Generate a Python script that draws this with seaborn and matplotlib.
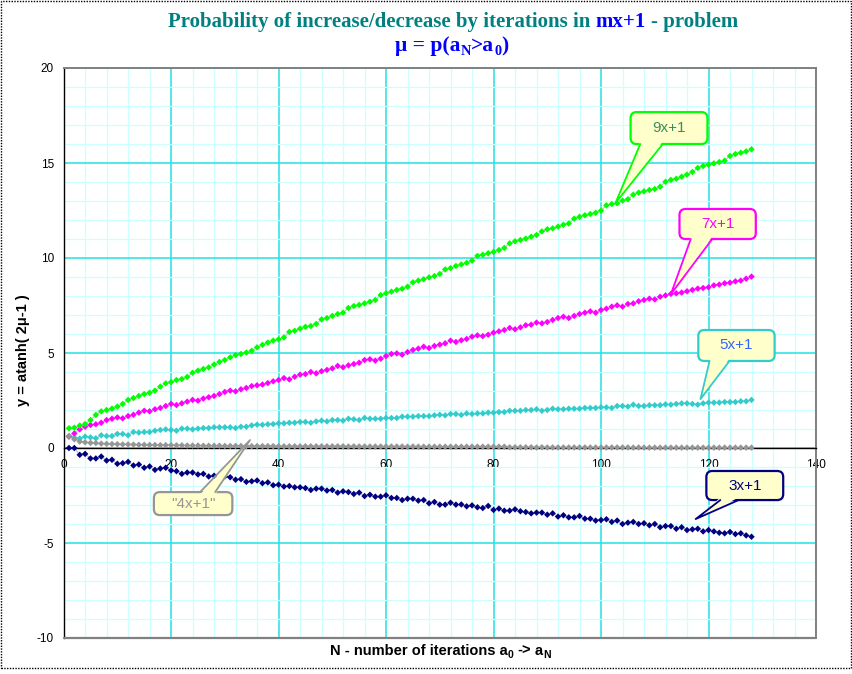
import matplotlib
matplotlib.use("Agg")
import matplotlib.pyplot as plt
import seaborn as sns
import pandas as pd
from matplotlib.patches import FancyBboxPatch, Polygon, Rectangle
from matplotlib.lines import Line2D
from matplotlib.ticker import MultipleLocator
from matplotlib.transforms import IdentityTransform

sns.set_style("white")
plt.rcParams["font.family"] = ["Liberation Sans", "DejaVu Sans"]
plt.rcParams["axes.unicode_minus"] = False

# ---------------- data ----------------
N = list(range(1, 129))

y_9x1 = [1.04, 1.07, 1.18, 1.26, 1.47, 1.74, 1.93, 2.00, 2.07, 2.18,
         2.32, 2.53, 2.63, 2.74, 2.84, 2.91, 3.02, 3.23, 3.40, 3.47,
         3.58, 3.63, 3.74, 3.96, 4.07, 4.16, 4.24, 4.39, 4.53, 4.63,
         4.77, 4.89, 4.95, 5.02, 5.12, 5.30, 5.43, 5.55, 5.65, 5.72,
         5.82, 6.11, 6.17, 6.28, 6.38, 6.42, 6.53, 6.77, 6.84, 6.95,
         7.05, 7.12, 7.37, 7.47, 7.53, 7.61, 7.70, 7.79, 8.05, 8.14,
         8.23, 8.32, 8.38, 8.49, 8.72, 8.81, 8.88, 8.98, 9.05, 9.16,
         9.40, 9.47, 9.58, 9.66, 9.74, 9.86, 10.11, 10.17, 10.25, 10.32,
         10.42, 10.53, 10.77, 10.88, 10.95, 11.02, 11.12, 11.21, 11.40, 11.51,
         11.56, 11.65, 11.75, 11.82, 12.07, 12.17, 12.25, 12.32, 12.38, 12.49,
         12.77, 12.84, 12.88, 13.02, 13.09, 13.33, 13.44, 13.51, 13.58, 13.63,
         13.75, 14.01, 14.11, 14.17, 14.28, 14.39, 14.53, 14.74, 14.84, 14.91,
         14.98, 15.05, 15.12, 15.37, 15.47, 15.54, 15.61, 15.72]

y_7x1 = [0.60, 0.77, 0.98, 1.12, 1.21, 1.25, 1.33, 1.47, 1.54, 1.61,
         1.56, 1.68, 1.75, 1.86, 1.96, 1.93, 2.04, 2.11, 2.21, 2.32,
         2.26, 2.35, 2.44, 2.53, 2.49, 2.60, 2.67, 2.74, 2.84, 2.95,
         3.02, 2.98, 3.09, 3.16, 3.26, 3.30, 3.34, 3.42, 3.51, 3.58,
         3.68, 3.61, 3.75, 3.86, 3.89, 4.00, 3.93, 4.04, 4.11, 4.19,
         4.32, 4.25, 4.35, 4.42, 4.49, 4.63, 4.67, 4.60, 4.70, 4.84,
         4.95, 4.98, 4.91, 5.05, 5.16, 5.23, 5.33, 5.26, 5.37, 5.44,
         5.51, 5.65, 5.58, 5.67, 5.74, 5.86, 5.93, 5.89, 5.96, 6.07,
         6.14, 6.21, 6.32, 6.25, 6.35, 6.46, 6.49, 6.60, 6.56, 6.63,
         6.74, 6.84, 6.91, 6.84, 6.95, 7.05, 7.12, 7.19, 7.12, 7.26,
         7.33, 7.44, 7.51, 7.44, 7.58, 7.61, 7.72, 7.79, 7.86, 7.82,
         7.96, 8.03, 8.11, 8.14, 8.18, 8.25, 8.32, 8.39, 8.42, 8.46,
         8.56, 8.60, 8.67, 8.70, 8.77, 8.81, 8.91, 9.02]

y_5x1 = [0.62, 0.55, 0.50, 0.60, 0.56, 0.51, 0.67, 0.63, 0.63, 0.74,
         0.74, 0.67, 0.84, 0.81, 0.84, 0.84, 0.91, 0.95, 0.98, 0.95,
         0.91, 1.02, 1.02, 0.98, 1.02, 1.05, 1.05, 1.09, 1.09, 1.09,
         1.09, 1.05, 1.12, 1.12, 1.19, 1.23, 1.22, 1.25, 1.26, 1.30,
         1.30, 1.33, 1.33, 1.37, 1.37, 1.33, 1.40, 1.44, 1.40, 1.47,
         1.47, 1.44, 1.54, 1.51, 1.47, 1.58, 1.54, 1.54, 1.54, 1.58,
         1.58, 1.58, 1.65, 1.65, 1.65, 1.68, 1.68, 1.68, 1.72, 1.75,
         1.72, 1.79, 1.79, 1.74, 1.82, 1.79, 1.82, 1.82, 1.86, 1.86,
         1.89, 1.89, 1.96, 1.96, 1.96, 2.00, 2.00, 2.04, 1.96, 2.00,
         2.07, 2.04, 2.04, 2.07, 2.07, 2.07, 2.11, 2.11, 2.11, 2.14,
         2.14, 2.11, 2.21, 2.21, 2.18, 2.28, 2.21, 2.21, 2.25, 2.25,
         2.25, 2.30, 2.28, 2.32, 2.35, 2.35, 2.32, 2.28, 2.35, 2.39,
         2.39, 2.39, 2.42, 2.42, 2.42, 2.46, 2.46, 2.53]

y_4x1 = [0.62, 0.46, 0.34, 0.30, 0.27, 0.26, 0.23, 0.22, 0.21, 0.20,
         0.19, 0.19, 0.18, 0.17, 0.17, 0.16, 0.16, 0.15, 0.15, 0.15,
         0.14, 0.14, 0.13, 0.13, 0.13, 0.12, 0.12, 0.12, 0.12, 0.11,
         0.11, 0.11, 0.11, 0.10, 0.10, 0.10, 0.10, 0.10, 0.10, 0.09,
         0.09, 0.09, 0.09, 0.09, 0.09, 0.09, 0.09, 0.09, 0.09, 0.09,
         0.09, 0.09, 0.08, 0.09, 0.08, 0.08, 0.08, 0.08, 0.08, 0.08,
         0.08, 0.08, 0.08, 0.07, 0.08, 0.07, 0.07, 0.07, 0.07, 0.07,
         0.07, 0.07, 0.07, 0.07, 0.07, 0.07, 0.07, 0.07, 0.07, 0.07,
         0.07, 0.07, 0.04, 0.04, 0.04, 0.04, 0.04, 0.03, 0.04, 0.03,
         0.03, 0.03, 0.03, 0.03, 0.03, 0.03, 0.03, 0.03, 0.03, 0.03,
         0.03, 0.03, 0.03, 0.03, 0.03, 0.02, 0.03, 0.02, 0.02, 0.02,
         0.02, 0.02, 0.02, 0.02, 0.02, 0.02, 0.02, 0.02, 0.02, 0.02,
         0.02, 0.02, 0.02, 0.02, 0.02, 0.02, 0.02, 0.02]

y_3x1 = [0.00, 0.00, -0.36, -0.31, -0.55, -0.55, -0.45, -0.66, -0.62, -0.83,
         -0.80, -0.73, -0.92, -0.87, -1.04, -0.97, -1.15, -1.08, -1.04, -1.18,
         -1.22, -1.36, -1.29, -1.29, -1.39, -1.36, -1.50, -1.46, -1.57, -1.50,
         -1.54, -1.67, -1.64, -1.78, -1.75, -1.71, -1.85, -1.81, -1.96, -1.93,
         -2.03, -2.00, -2.07, -2.07, -2.11, -2.21, -2.14, -2.14, -2.24, -2.21,
         -2.35, -2.28, -2.32, -2.42, -2.35, -2.53, -2.46, -2.56, -2.56, -2.49,
         -2.63, -2.63, -2.74, -2.67, -2.67, -2.77, -2.74, -2.91, -2.84, -2.98,
         -2.98, -2.88, -2.98, -2.97, -3.07, -3.02, -3.12, -3.16, -3.05, -3.26,
         -3.19, -3.30, -3.30, -3.23, -3.33, -3.37, -3.44, -3.40, -3.40, -3.51,
         -3.44, -3.61, -3.54, -3.65, -3.65, -3.58, -3.72, -3.72, -3.82, -3.79,
         -3.75, -3.89, -3.82, -4.00, -3.93, -3.89, -4.00, -3.96, -4.07, -4.00,
         -4.17, -4.11, -4.11, -4.25, -4.17, -4.32, -4.28, -4.25, -4.39, -4.32,
         -4.39, -4.46, -4.49, -4.42, -4.53, -4.49, -4.60, -4.67]

series_names = ["3x+1", "5x+1", "7x+1", "9x+1", "4x+1"]
series_values = [y_3x1, y_5x1, y_7x1, y_9x1, y_4x1]
series_colors = ["#000080", "#33CCCC", "#FF00FF", "#00FF00", "#969696"]

title_main = "Probability of increase/decrease by iterations in"
title_mid = "mx+1"
title_end = "- problem"
y_label = "y = atanh( 2\u03bc-1 )"

# ---------------- build long table ----------------
rows = []
for name, vals in zip(series_names, series_values):
    for n, v in zip(N, vals):
        rows.append((name, n, v))
df = pd.DataFrame(rows, columns=["series", "N", "y"])
palette = dict(zip(series_names, series_colors))

W, H = 853, 674
fig = plt.figure(figsize=(W / 100, H / 100), dpi=100)
fig.patch.set_facecolor("white")
L, R, T, B = 63.6, 816.0, 68.0, 638.0
ax = fig.add_axes([L / W, (H - B) / H, (R - L) / W, (B - T) / H])
ax.set_facecolor("white")

sns.lineplot(data=df, x="N", y="y", units="series", estimator=None,
             color="#BEBEBE", linewidth=0.8, ax=ax, zorder=2, legend=False)
sns.scatterplot(data=df, x="N", y="y", hue="series", palette=palette,
                marker="D", s=11, linewidth=0, ax=ax, zorder=3, legend=False)

ax.set_xlim(0, 140)
ax.set_ylim(-10, 20)
ax.xaxis.set_major_locator(MultipleLocator(20))
ax.xaxis.set_minor_locator(MultipleLocator(4))
ax.yaxis.set_major_locator(MultipleLocator(5))
ax.yaxis.set_minor_locator(MultipleLocator(1))
ax.grid(which="minor", color="#CCFFFF", linewidth=0.9)
ax.grid(which="major", color="#22E2E2", linewidth=1.1)
ax.set_axisbelow(True)
ax.set_xlabel("")
ax.set_ylabel("")

ax.spines["bottom"].set_position(("data", 0))
ax.spines["bottom"].set_color("black")
ax.spines["bottom"].set_linewidth(1.0)
ax.spines["left"].set_color("black")
ax.spines["left"].set_linewidth(1.0)
for s in ("top", "right"):
    ax.spines[s].set_color("#808080")
    ax.spines[s].set_linewidth(1.4)
ax.axhline(-10, color="#808080", linewidth=1.6, clip_on=False, zorder=4)

ax.tick_params(which="major", direction="out", length=4, width=1,
               color="black", labelsize=8.5, labelcolor="black")
ax.tick_params(axis="x", which="major", pad=4)
ax.tick_params(axis="y", which="major", pad=3)
ax.tick_params(which="minor", length=0)

# ---------------- text helpers ----------------
renderer = fig.canvas.get_renderer()


def measure(s, props):
    t = fig.text(0, 0, "|" + s + "|", **props)
    w1 = t.get_window_extent(renderer).width
    t.remove()
    t = fig.text(0, 0, "||", **props)
    w2 = t.get_window_extent(renderer).width
    t.remove()
    return w1 - w2


def place_pieces(pieces, cx, base_y):
    """pieces: (text, props, drop_px, gap_spaces); drop_px > 0 moves down"""
    widths, gaps = [], []
    for s, props, dy, gap in pieces:
        widths.append(measure(s, props))
        gaps.append(gap * measure(" ", props))
    total = sum(widths) + sum(gaps)
    x = cx - total / 2
    for (s, props, dy, gap), w, g in zip(pieces, widths, gaps):
        x += g
        fig.text(x, (H - base_y) - dy, s, transform=IdentityTransform(),
                 ha="left", va="baseline", **props)
        x += w


serif_b = dict(family=["Liberation Serif", "DejaVu Serif"], weight="bold")
ts = 15.0
place_pieces([
    (title_main, dict(serif_b, size=ts, color="#008080"), 0, 0),
    (title_mid, dict(serif_b, size=ts, color="#0000FF"), 0, 1),
    (title_end, dict(serif_b, size=ts, color="#008080"), 0, 1),
], 453, 27)

ss = 15.5
place_pieces([
    ("\u03bc = p(a", dict(serif_b, size=ss, color="#0000FF"), 0, 0),
    ("N", dict(serif_b, size=ss * 0.66, color="#0000FF"), 4, 0),
    (">a", dict(serif_b, size=ss, color="#0000FF"), 0, 0),
    ("0", dict(serif_b, size=ss * 0.66, color="#0000FF"), 4, 0),
    (")", dict(serif_b, size=ss, color="#0000FF"), 0, 0),
], 452, 51)

sans_b = dict(family=["Liberation Sans", "DejaVu Sans"], weight="bold", color="black")
place_pieces([
    ("N - number of iterations a", dict(sans_b, size=10.5), 0, 0),
    ("0", dict(sans_b, size=7.5), 3, 0),
    ("->", dict(sans_b, size=10.5), 0, 1),
    ("a", dict(sans_b, size=10.5), 0, 1),
    ("N", dict(sans_b, size=7.5), 3, 0),
], 440, 655)

fig.text(23, H - 350, y_label, transform=IdentityTransform(), rotation=90,
         ha="center", va="center", size=10.5, **sans_b)

# ---------------- callouts ----------------
callouts = [
    dict(text="9x+1", box=(105.5, 16.0, 119.8, 17.68), base=(107.3, 111.5),
         side="bottom", tip=(102.7, 12.9), ec="#00FF00", tc="#3C8C5C"),
    dict(text="7x+1", box=(114.6, 11.0, 128.8, 12.58), base=(116.7, 120.7),
         side="bottom", tip=(113.0, 8.1), ec="#FF00FF", tc="#FF00FF"),
    dict(text="5x+1", box=(118.1, 4.58, 132.3, 6.21), base=(120.2, 123.9),
         side="bottom", tip=(118.5, 2.57), ec="#33CCCC", tc="#3366FF"),
    dict(text="3x+1", box=(119.6, -2.74, 133.9, -1.21), base=(122.2, 125.6),
         side="bottom", tip=(117.6, -3.74), ec="#000080", tc="#000080"),
    dict(text='"4x+1"', box=(16.8, -3.53, 31.4, -2.32), base=(25.4, 28.2),
         side="top", tip=(34.7, 0.42), ec="#969696", tc="#969696"),
]
fc = "#FFFFCC"
for c in callouts:
    x0, y0, x1, y1 = c["box"]
    (dx0, dy0) = ax.transData.transform((x0, y0))
    (dx1, dy1) = ax.transData.transform((x1, y1))
    box = FancyBboxPatch((dx0, dy0), dx1 - dx0, dy1 - dy0,
                         boxstyle="round,pad=0,rounding_size=6",
                         transform=IdentityTransform(), facecolor=fc,
                         edgecolor=c["ec"], linewidth=1.6, zorder=5)
    fig.add_artist(box)
    by = y0 if c["side"] == "bottom" else y1
    (bx0, bdy) = ax.transData.transform((c["base"][0], by))
    (bx1, _) = ax.transData.transform((c["base"][1], by))
    (tx, ty) = ax.transData.transform(c["tip"])
    inward = 2.5 if c["side"] == "bottom" else -2.5
    poly = Polygon([(bx0, bdy + inward), (tx, ty), (bx1, bdy + inward)],
                   closed=True, transform=IdentityTransform(), facecolor=fc,
                   edgecolor="none", zorder=6)
    fig.add_artist(poly)
    ln = Line2D([bx0, tx, bx1], [bdy, ty, bdy], transform=IdentityTransform(),
                color=c["ec"], linewidth=1.3, zorder=6)
    fig.add_artist(ln)
    fig.text((dx0 + dx1) / 2, (dy0 + dy1) / 2, c["text"],
             transform=IdentityTransform(), ha="center", va="center",
             size=11, color=c["tc"], zorder=7,
             family=["Liberation Sans", "DejaVu Sans"])

# outer dotted frame
frame = Rectangle((1.0, 6.0), 850.0, 667.0, transform=IdentityTransform(),
                  fill=False, edgecolor="black", linewidth=1.0,
                  linestyle=(0, (1, 1)), zorder=10)
fig.add_artist(frame)

fig.savefig("out.png", dpi=100, facecolor="white")
